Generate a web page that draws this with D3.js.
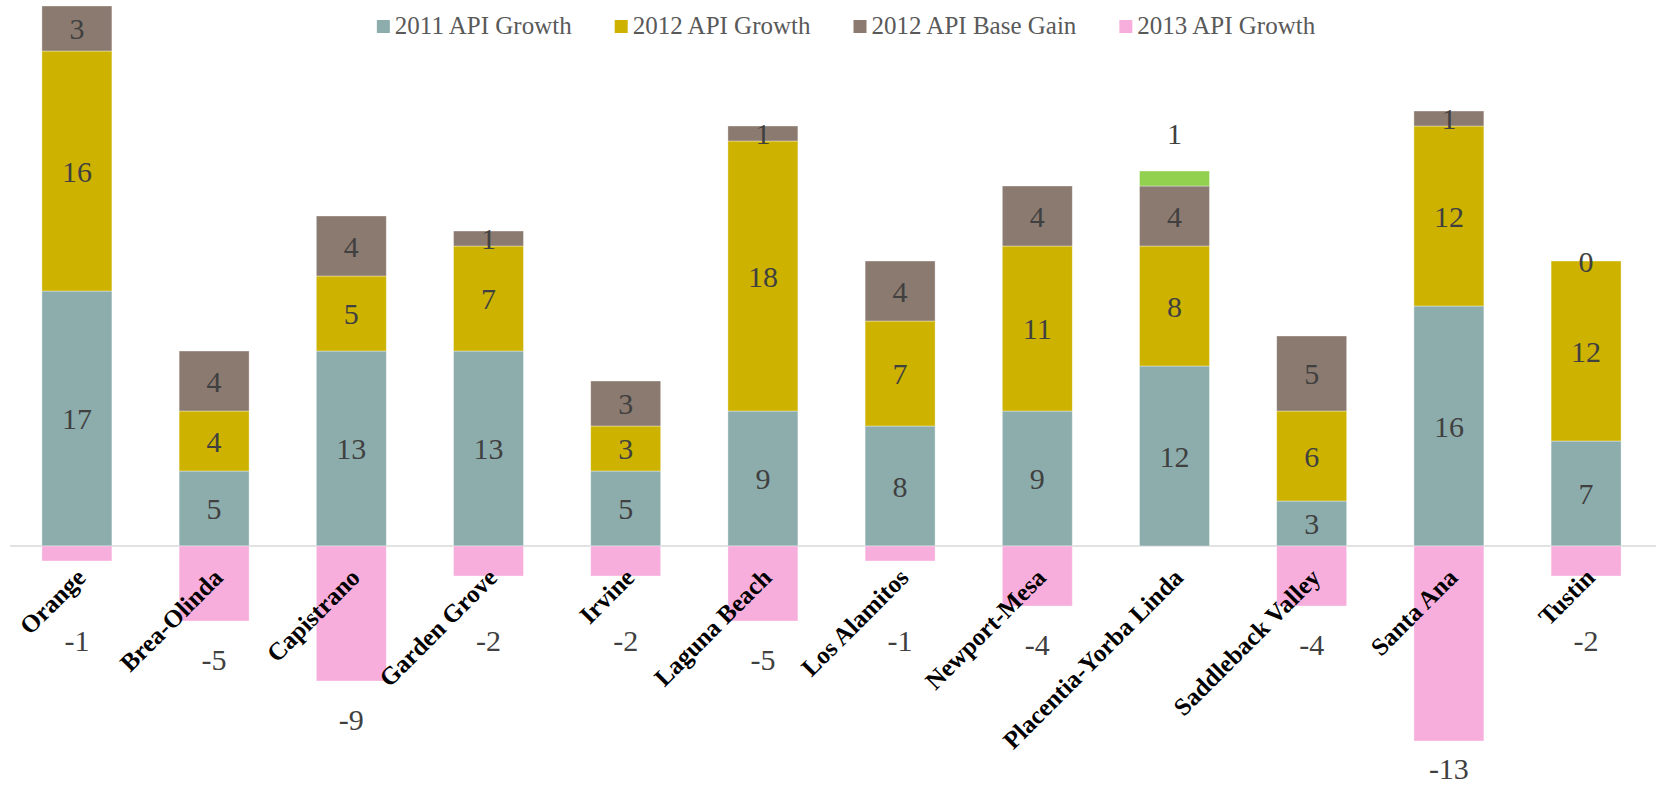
<!DOCTYPE html>
<html>
<head>
<meta charset="utf-8">
<script src="https://cdn.jsdelivr.net/npm/d3@7"></script>
<style>
  html, body { margin: 0; padding: 0; background: #fff; }
  svg { display: block; }
</style>
</head>
<body>
<svg id="chart" width="1656" height="785"></svg>
<script>
// ---- data ----
const categories = ["Orange", "Brea-Olinda", "Capistrano", "Garden Grove", "Irvine", "Laguna Beach",
  "Los Alamitos", "Newport-Mesa", "Placentia-Yorba Linda", "Saddleback Valley", "Santa Ana", "Tustin"];
const growth2011   = [17, 5, 13, 13, 5, 9, 8, 9, 12, 3, 16, 7];
const growth2012   = [16, 4, 5, 7, 3, 18, 7, 11, 8, 6, 12, 12];
const baseGain2012 = [3, 4, 4, 1, 3, 1, 4, 4, 4, 5, 1, 0];
const growth2013   = [-1, -5, -9, -2, -2, -5, -1, -4, 1, -4, -13, -2];
const seriesNames  = ["2011 API Growth", "2012 API Growth", "2012 API Base Gain", "2013 API Growth"];

// ---- styles ----
const colors = ["#8DADAD", "#CDB300", "#8B7A6F", "#F7AEDC"];
const positive2013Color = "#92D050";
const W = 1656, H = 785;
const svg = d3.select("#chart");

const keys = ["g2011", "g2012", "base", "g2013"];
const table = categories.map((c, i) => ({
  cat: c, g2011: growth2011[i], g2012: growth2012[i], base: baseGain2012[i], g2013: growth2013[i]
}));
const stacked = d3.stack().keys(keys).offset(d3.stackOffsetDiverging)(table);

const x = d3.scaleBand().domain(categories).range([9, 1654]).paddingInner(0.49).paddingOuter(0.24);
const y = d3.scaleLinear().domain([-14, 36.4]).range([756, 0]);

// baseline axis
const xAxis = d3.axisBottom(x).tickSize(0).tickFormat("");
const axisG = svg.append("g").attr("transform", `translate(0,${y(0)})`).call(xAxis);
axisG.select(".domain").remove();
svg.append("line")
  .attr("x1", 10).attr("x2", W).attr("y1", y(0)).attr("y2", y(0))
  .attr("stroke", "#D9D9D9").attr("stroke-width", 1.6);

// bars
stacked.forEach((layer, li) => {
  svg.append("g").selectAll("rect").data(layer).join("rect")
    .attr("x", d => x(d.data.cat))
    .attr("width", x.bandwidth())
    .attr("y", d => y(Math.max(d[0], d[1])))
    .attr("height", d => Math.abs(y(d[0]) - y(d[1])))
    .attr("fill", d => (li === 3 && d.data.g2013 > 0) ? positive2013Color : colors[li])
    .attr("stroke", "rgba(255,255,255,0.45)")
    .attr("stroke-width", 0.8);
});

// segment labels (inside, centred) — positioned on cumulative positive sums
const labelFont = "'Liberation Serif', 'Times New Roman', serif";
const posSeries = [growth2011, growth2012, baseGain2012];
posSeries.forEach((vals, si) => {
  svg.append("g").selectAll("text").data(categories).join("text")
    .attr("x", d => x(d) + x.bandwidth() / 2)
    .attr("y", (d, i) => {
      let before = 0;
      for (let k = 0; k < si; k++) before += posSeries[k][i];
      return y(before + vals[i] / 2);
    })
    .attr("dy", "0.35em")
    .attr("text-anchor", "middle")
    .attr("font-family", labelFont)
    .attr("font-size", 30)
    .attr("fill", "#404040")
    .text((d, i) => vals[i]);
});

// 2013 labels (outside end)
const last = stacked[3];
svg.append("g").selectAll("text").data(last).join("text")
  .attr("x", d => x(d.data.cat) + x.bandwidth() / 2)
  .attr("y", d => {
    const v = d.data.g2013;
    if (v > 0) return y(d[1]) - 38;
    return Math.min(Math.max(y(d[0]) + 38, 640), 768);
  })
  .attr("dy", "0.35em")
  .attr("text-anchor", "middle")
  .attr("font-family", labelFont)
  .attr("font-size", 30)
  .attr("fill", "#404040")
  .text(d => d.data.g2013);

// category labels, rotated
svg.append("g").selectAll("text").data(categories).join("text")
  .attr("transform", d => `translate(${x(d) + x.bandwidth() / 2 + 2},571) rotate(-45)`)
  .attr("dy", "0.46em")
  .attr("text-anchor", "end")
  .attr("font-family", labelFont)
  .attr("font-weight", "bold")
  .attr("font-size", 25)
  .attr("fill", "#000")
  .text(d => d);

// legend
const legend = svg.append("g");
const items = legend.selectAll("g").data(seriesNames).join("g");
items.append("rect").attr("width", 13).attr("height", 13).attr("y", 20)
  .attr("fill", (d, i) => colors[i]);
items.append("text").attr("x", 18).attr("y", 34)
  .attr("font-family", labelFont).attr("font-size", 25).attr("fill", "#595959")
  .text(d => d);
const widths = [];
items.each(function() { widths.push(18 + d3.select(this).select("text").node().getComputedTextLength()); });
const gap = 43;
const total = d3.sum(widths) + gap * (widths.length - 1);
let cx = 846 - total / 2;
items.each(function(d, i) {
  d3.select(this).attr("transform", `translate(${cx},0)`);
  cx += widths[i] + gap;
});
</script>
</body>
</html>
